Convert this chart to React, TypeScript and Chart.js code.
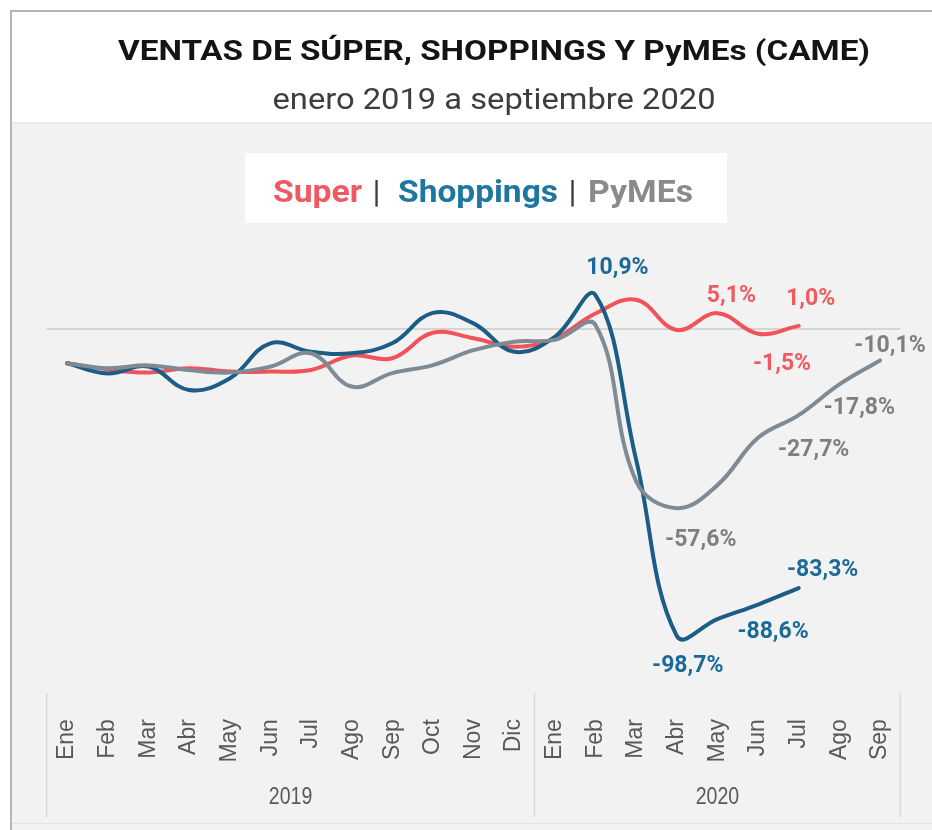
import React, { useEffect, useRef } from 'react';
import { Chart, registerables } from 'chart.js';

Chart.register(...registerables);

const months = ['Ene', 'Feb', 'Mar', 'Abr', 'May', 'Jun', 'Jul', 'Ago', 'Sep', 'Oct', 'Nov', 'Dic', 'Ene', 'Feb', 'Mar', 'Abr', 'May', 'Jun', 'Jul', 'Ago', 'Sep'];
const years = ['2019', '2020'];
const monthsPerYear = [12, 9];

const superValues = [-11, -13, -14, -12.6, -13.7, -13.7, -13.2, -8.5, -9.4, -1.2, -3.0, -5.7, -3.0, 5.0, 9.4, -0.3, 5.1, -1.5, 1.0, null, null];
const shoppingsValues = [-11, -14.3, -12.1, -19.6, -15.9, -4.6, -7.3, -7.8, -4.6, 5.2, 1.8, -7.3, -2.5, 10.9, -42, -98.7, -93.3, -88.6, -83.3, null, null];
const pymesValues = [-11, -12.6, -11.7, -13.2, -14.0, -12.1, -7.8, -18.5, -14.2, -11.6, -6.8, -4.1, -3.5, 1.3, -48.9, -57.6, -50.2, -35.0, -27.7, -17.8, -10.1];

const seriesNames = ['Super', 'Shoppings', 'PyMEs'];
const titleText = 'VENTAS DE SÚPER, SHOPPINGS Y PyMEs (CAME)';
const subtitleText = 'enero 2019 a septiembre 2020';

const lineColors = ['#f2525a', '#1b5d86', '#7e8a94'];
const labelColors = ['#f05a60', '#1c6a97', '#7f7f7f'];
const legendColors = ['#ef5a62', '#1f76a0', '#8a8a8a'];

// which points get a value label: [series, month index, dx, dy]
const labelled: [number, number, number, number][] = [
  [1, 13, 22, -27],
  [0, 16, 14, -17],
  [0, 18, 12, -27],
  [0, 17, 24, 31],
  [2, 20, 10, -14],
  [2, 19, 20, 24],
  [2, 18, 15, 35],
  [2, 15, 24, 32],
  [1, 18, 24, -18],
  [1, 17, 15, 28],
  [1, 15, 11, 30],
];

function fitText(ctx: CanvasRenderingContext2D, text: string, x: number, y: number, width: number, font: string, color: string, align: 'left' | 'center') {
  ctx.save();
  ctx.font = font;
  ctx.fillStyle = color;
  ctx.textBaseline = 'alphabetic';
  ctx.textAlign = 'left';
  const w = ctx.measureText(text).width;
  const s = width / w;
  const left = align === 'center' ? x - width / 2 : x;
  ctx.translate(left, y);
  ctx.scale(s, 1);
  ctx.fillText(text, 0, 0);
  ctx.restore();
}

function fmt(v: number) {
  return v.toFixed(1).replace('.', ',') + '%';
}

const decor = {
  id: 'decor',
  beforeDraw(chart: any) {
    const ctx: CanvasRenderingContext2D = chart.ctx;
    const W = chart.width;
    const H = chart.height;
    ctx.save();
    ctx.fillStyle = '#ffffff';
    ctx.fillRect(0, 0, W, H);
    ctx.fillStyle = '#f2f2f2';
    ctx.fillRect(12, 124, W - 12, H - 124);
    ctx.fillStyle = '#eaeaea';
    ctx.fillRect(12, 122, W - 12, 2);
    ctx.fillStyle = '#b5b5b5';
    ctx.fillRect(10, 10, W - 10, 2);
    ctx.fillRect(10, 10, 2, H - 10);
    ctx.fillStyle = '#e2e2e2';
    ctx.fillRect(12, 823, W - 12, 1);

    fitText(ctx, titleText, 494, 60, 752, 'bold 28px Roboto', '#141414', 'center');
    fitText(ctx, subtitleText, 494, 109, 443, '30px Roboto', '#3d3d3d', 'center');

    // legend box
    ctx.fillStyle = '#ffffff';
    ctx.fillRect(245, 153, 482, 70);
    const lf = 'bold 31px Roboto';
    fitText(ctx, seriesNames[0], 273, 202, 89, lf, legendColors[0], 'left');
    fitText(ctx, '|', 373, 202, 7, lf, '#3a3a3a', 'left');
    fitText(ctx, seriesNames[1], 398, 202, 160, lf, legendColors[1], 'left');
    fitText(ctx, '|', 569, 202, 7, lf, '#3a3a3a', 'left');
    fitText(ctx, seriesNames[2], 588, 202, 105, lf, legendColors[2], 'left');

    const xs = chart.scales.x;
    const ys = chart.scales.y;
    const step = xs.getPixelForValue(1) - xs.getPixelForValue(0);
    const xStart = xs.getPixelForValue(0) - step / 2;
    const xEnd = xs.getPixelForValue(months.length - 1) + step / 2;
    const y0 = ys.getPixelForValue(0);
    ctx.strokeStyle = '#d5d5d5';
    ctx.lineWidth = 2;
    ctx.beginPath();
    ctx.moveTo(xStart, y0);
    ctx.lineTo(xEnd, y0);
    ctx.stroke();

    // group separators and year labels
    ctx.strokeStyle = '#d9d9d9';
    ctx.lineWidth = 1.5;
    let idx = 0;
    const bounds = [xStart];
    years.forEach((yr, k) => {
      const a = xs.getPixelForValue(idx) - step / 2;
      idx += monthsPerYear[k];
      const b = xs.getPixelForValue(idx - 1) + step / 2;
      bounds.push(b);
      ctx.fillStyle = '#595959';
      ctx.font = '23px "Liberation Sans"';
      ctx.textAlign = 'center';
      ctx.textBaseline = 'middle';
      ctx.save();
      ctx.translate((a + b) / 2, 798);
      ctx.scale(0.85, 1);
      ctx.fillText(yr, 0, 0);
      ctx.restore();
    });
    bounds.forEach((bx) => {
      ctx.beginPath();
      ctx.moveTo(bx, 693);
      ctx.lineTo(bx, 817);
      ctx.stroke();
    });
    ctx.restore();
  },
  afterDatasetsDraw(chart: any) {
    const ctx: CanvasRenderingContext2D = chart.ctx;
    ctx.save();
    ctx.font = 'bold 23px Roboto';
    ctx.textAlign = 'center';
    ctx.textBaseline = 'middle';
    labelled.forEach(([s, i, dx, dy]) => {
      const ds = chart.data.datasets[s];
      const v = ds.data[i];
      const meta = chart.getDatasetMeta(s);
      const pt = meta.data[i];
      ctx.fillStyle = labelColors[s];
      ctx.fillText(fmt(v), pt.x + dx, pt.y + dy);
    });
    ctx.restore();
  },
};

export default function App() {
  const ref = useRef<HTMLCanvasElement>(null);
  useEffect(() => {
    if (!ref.current) return;
    const chart = new Chart(ref.current, {
      type: 'line',
      data: {
        labels: months,
        datasets: [
          { label: seriesNames[0], data: superValues, borderColor: lineColors[0], order: 2 },
          { label: seriesNames[1], data: shoppingsValues, borderColor: lineColors[1], order: 1 },
          { label: seriesNames[2], data: pymesValues, borderColor: lineColors[2], order: 0 },
        ].map((d) => ({
          ...d,
          borderWidth: 4,
          tension: 0.4,
          pointRadius: 0,
          pointHoverRadius: 0,
          fill: false,
          clip: false as any,
          borderCapStyle: 'round' as const,
        })),
      },
      options: {
        animation: false,
        responsive: false,
        devicePixelRatio: 1,
        events: [],
        layout: { padding: { top: 266.8, left: 67, right: 52, bottom: 0 } },
        plugins: { legend: { display: false }, title: { display: false }, tooltip: { enabled: false } },
        scales: {
          x: {
            type: 'category',
            offset: false,
            grid: { display: false },
            border: { display: false },
            ticks: {
              autoSkip: false,
              maxRotation: 90,
              minRotation: 90,
              padding: 40,
              color: '#595959',
              font: { family: 'Liberation Sans', size: 23 },
            },
            afterFit: (s: any) => {
              s.height = 158.9;
              s.paddingLeft = 0;
              s.paddingRight = 0;
            },
          },
          y: {
            display: false,
            min: -110,
            max: 20,
          },
        },
      },
      plugins: [decor],
    });
    return () => chart.destroy();
  }, []);
  return (
    <div style={{ position: 'absolute', left: 0, top: 0, width: 932, height: 830 }}>
      <canvas ref={ref} width={932} height={830} style={{ width: 932, height: 830, display: 'block' }} />
    </div>
  );
}
